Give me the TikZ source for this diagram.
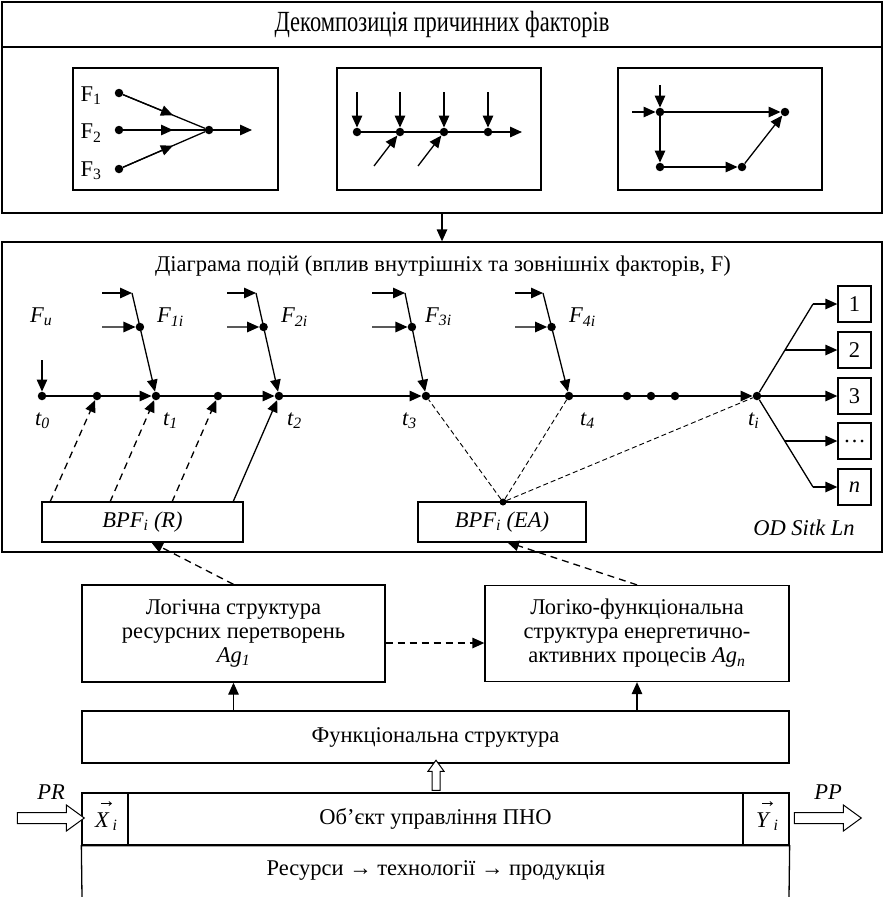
\documentclass[tikz,border=0pt]{standalone}
\usepackage{fontspec}
\usepackage{graphicx}
\setmainfont{Liberation Serif}
\usetikzlibrary{arrows.meta,calc,shapes.arrows}
\begin{document}
\begin{tikzpicture}[x=1pt,y=-1pt,
  every node/.style={font=\fontsize{22.5}{24}\selectfont, inner sep=0pt},
  box/.style={draw, line width=1.3pt, rectangle, align=center},
  ln/.style={line width=1.3pt},
  arr/.style={line width=1.3pt, -{Triangle[length=12pt,width=10.5pt]}},
  dot/.style={circle, fill, minimum size=8.5pt, inner sep=0pt},
  dsh/.style={dash pattern=on 7pt off 5pt},
  fdsh/.style={line width=0.9pt, dash pattern=on 5pt off 3pt},
  hollow/.style={draw, line width=1pt, single arrow, fill=white,
     minimum width=25pt, inner sep=5pt, single arrow head extend=7.5pt,
     single arrow tip angle=72},
  vecarr/.style={line width=0.8pt, -{Straight Barb[length=2.5pt,width=4pt]}},
  lbl/.style={anchor=west},
]
\useasboundingbox (0,0) rectangle (884,897);

% ---------- top section ----------
\node[box, minimum width=880pt, minimum height=45pt] (topT) at (442,24.5) {\scalebox{1}[1.3]{Декомпозиція причинних факторів}};
\node[box, minimum width=880pt, minimum height=166pt] (topB) at (442,130) {};

\node[box, minimum width=205pt, minimum height=122pt] (sb1) at (175.5,129) {};
\node[box, minimum width=204pt, minimum height=122pt] (sb2) at (439,129) {};
\node[box, minimum width=204pt, minimum height=122pt] (sb3) at (720,129) {};

% box 1
\node[dot] (a1) at (119,93) {};
\node[dot] (a2) at (119,130) {};
\node[dot] (a3) at (119,169) {};
\node[dot] (m) at (209,130) {};
\coordinate (mend) at (252,130);
\node at (91,96) {F\textsubscript{1}};
\node at (91,133) {F\textsubscript{2}};
\node at (91,171) {F\textsubscript{3}};
\foreach \s in {a1,a2,a3}{
  \draw[ln] (\s) -- (m);
  \draw[arr] (\s) -- ($(\s)!0.6!(m)$);
}
\draw[arr] (m) -- (mend);

% box 2
\node[dot] (p1) at (357,132) {};
\node[dot] (p2) at (400,132) {};
\node[dot] (p3) at (444,132) {};
\node[dot] (p4) at (488,132) {};
\coordinate (pend) at (522,132);
\draw[ln] (p1) -- (p2) -- (p3) -- (p4);
\draw[arr] (p4) -- (pend);
\foreach \s/\x in {p1/357,p2/400,p3/444,p4/488}{
  \coordinate (v\s) at (\x,92);
  \draw[arr] (v\s) -- (\s);
}
\coordinate (q2) at (374,166);
\coordinate (q3) at (418,166);
\draw[arr] (q2) -- (p2);
\draw[arr] (q3) -- (p3);

% box 3
\node[dot] (c) at (660,112) {};
\node[dot] (r) at (785,112) {};
\node[dot] (dl) at (660,167) {};
\node[dot] (dr) at (742,167) {};
\coordinate (cl) at (632,112);
\coordinate (ct) at (660,85);
\draw[arr] (cl) -- (c);
\draw[arr] (ct) -- (c);
\draw[arr] (c) -- (r);
\draw[arr] (c) -- (dl);
\draw[arr] (dl) -- (dr);
\draw[arr] (dr) -- (r);

% ---------- event diagram ----------
\node[box, minimum width=880pt, minimum height=310pt] (s2) at (442,397) {};
\draw[arr] (topB.south) -- (s2.north);
\node at (443,266) {Діаграма подій (вплив внутрішніх та зовнішніх факторів, F)};

\node[dot] (t0) at (42,396) {};
\node[dot] (d1) at (97,396) {};
\node[dot] (t1) at (156,396) {};
\node[dot] (d2) at (218,396) {};
\node[dot] (t2) at (279,396) {};
\node[dot] (t3) at (426,396) {};
\node[dot] (t4) at (569,396) {};
\node[dot] (e1) at (627,396) {};
\node[dot] (e2) at (651,396) {};
\node[dot] (e3) at (675,396) {};
\node[dot] (ti) at (757,396) {};

\draw[ln] (t0) -- (d1);
\draw[arr] (d1) -- (t1);
\draw[ln] (t1) -- (d2);
\draw[arr] (d2) -- (t2);
\draw[arr] (t2) -- (t3);
\draw[ln] (t3) -- (t4) -- (e1) -- (e2) -- (e3);
\draw[arr] (e3) -- (ti);

% Fu
\coordinate (fu) at (42,360);
\draw[arr] (fu) -- (t0);
\node[lbl] at (30,317) {\textit{F\textsubscript{u}}};

% factor groups
\foreach \n/\xa/\xc/\t/\lx in {1/102/132/t1/157, 2/227/256/t2/281, 3/372/405/t3/425, 4/515/543/t4/569}{
  \coordinate (ga\n) at (\xa,293);
  \coordinate (gc\n) at (\xc,293);
  \coordinate (gb\n) at (\xa,327);
  \node[dot] (gd\n) at ($(gc\n)!0.33!(\t)$) {};
  \draw[arr] (ga\n) -- (gc\n);
  \draw[arr] (gc\n) -- (\t);
  \draw[arr] (gb\n) -- (gd\n);
  \node[lbl] at (\lx,317) {\textit{F\textsubscript{\n i}}};
}

% t labels
\node[lbl] at (35,421) {\textit{t\textsubscript{0}}};
\node[lbl] at (163,421) {\textit{t\textsubscript{1}}};
\node[lbl] at (287,421) {\textit{t\textsubscript{2}}};
\node[lbl] at (402,421) {\textit{t\textsubscript{3}}};
\node[lbl] at (580,421) {\textit{t\textsubscript{4}}};
\node[lbl] at (748,421) {\textit{t\textsubscript{i}}};

% outcome boxes
\foreach \k/\y/\txt in {1/304/1, 2/350/2, 3/396/3, 4/441/\raisebox{-4pt}{\dots}, 5/487/\textit{n}}{
  \node[box, minimum width=33pt, minimum height=36pt] (o\k) at (854.5,\y) {\txt};
}
\coordinate (up) at (813,304);
\coordinate (dn) at (813,487);
\coordinate (bu) at (785,350);
\coordinate (bd) at (785,441);
\draw[ln] (ti) -- (up);
\draw[ln] (ti) -- (dn);
\draw[arr] (up) -- (o1);
\draw[arr] (bu) -- (o2);
\draw[arr] (ti) -- (o3);
\draw[arr] (bd) -- (o4);
\draw[arr] (dn) -- (o5);
\node at (804,528) {\textit{OD Sitk Ln}};

% BPF boxes
\node[box, minimum width=201pt, minimum height=40pt] (bR) at (142.5,522) {\textit{BPF\textsubscript{i} (R)}};
\node[box, minimum width=168pt, minimum height=40pt] (bE) at (502,522) {\textit{BPF\textsubscript{i} (EA)}};

\coordinate (s1) at (50,502);
\coordinate (s2a) at (110,502);
\coordinate (s3) at (172,502);
\coordinate (s4) at (233,502);
\draw[arr,dsh] (s1) -- (d1);
\draw[arr,dsh] (s2a) -- (t1);
\draw[arr,dsh] (s3) -- (d2);
\draw[arr] (s4) -- (t2);

\node[dot, minimum size=7pt] (ed) at (503,502) {};
\draw[fdsh] (ed) -- (t3);
\draw[fdsh] (ed) -- (t4);
\draw[fdsh] (ed) -- (ti);

% ---------- logic boxes ----------
\node[box, minimum width=303pt, minimum height=97pt] (L1) at (233.5,633.5)
  {Логічна структура\\ресурсних перетворень\\\textit{Ag\textsubscript{1}}};
\node[box, minimum width=304pt, minimum height=96pt] (L2) at (637,633.5)
  {Логіко-функціональна\\структура енергетично-\\активних процесів \textit{Ag\textsubscript{n}}};

\coordinate (bRin) at (151,542);
\coordinate (bEin) at (507,542);
\draw[arr,dsh] (L1.north) -- (bRin);
\draw[arr,dsh] (L2.north) -- (bEin);
\draw[arr,dsh] ([yshift=-9.5pt]L1.east) -- ([yshift=-9.5pt]L2.west);

% functional structure
\node[box, minimum width=707pt, minimum height=52pt] (F) at (435.5,737) {Функціональна структура};
\draw[arr] (F.north -| L1.south) -- (L1.south);
\draw[arr] (F.north -| L2.south) -- (L2.south);

% object
\node[box, minimum width=615pt, minimum height=52pt] (Obj) at (435.5,819) {Об’єкт управління ПНО};
\node[box, minimum width=46pt, minimum height=52pt] (Xc) at (105,819) {};
\node[box, minimum width=46pt, minimum height=52pt] (Yc) at (766,819) {};
\node[anchor=base west] (Xl) at (95,827) {\textit{X}\kern3pt\textsubscript{\textit{i}}};
\node[anchor=base west] (Yl) at (756,827) {\textit{Y}\kern3pt\textsubscript{\textit{i}}};
\coordinate (xa1) at (101,803.5);
\coordinate (xa2) at (112,803.5);
\coordinate (ya1) at (762,803.5);
\coordinate (ya2) at (773,803.5);
\draw[vecarr] (xa1) -- (xa2);
\draw[vecarr] (ya1) -- (ya2);
\draw[ln] (82,897) -- (Xc.south west) -- (Yc.south east) -- (789,897);
\node at (436,870) {Ресурси → технології → продукція};

% hollow arrows
\node[hollow, minimum height=67pt] (pr) at (47,818) {};
\node[hollow, minimum height=67pt] (pp) at (824,818) {};
\node[hollow, minimum height=30pt, minimum width=15pt, inner sep=3.5pt,
      single arrow head extend=4pt, rotate=90] (upA) at (436,778) {};
\node at (51,792) {\textit{PR}};
\node at (828,792) {\textit{PP}};
\end{tikzpicture}
\end{document}
